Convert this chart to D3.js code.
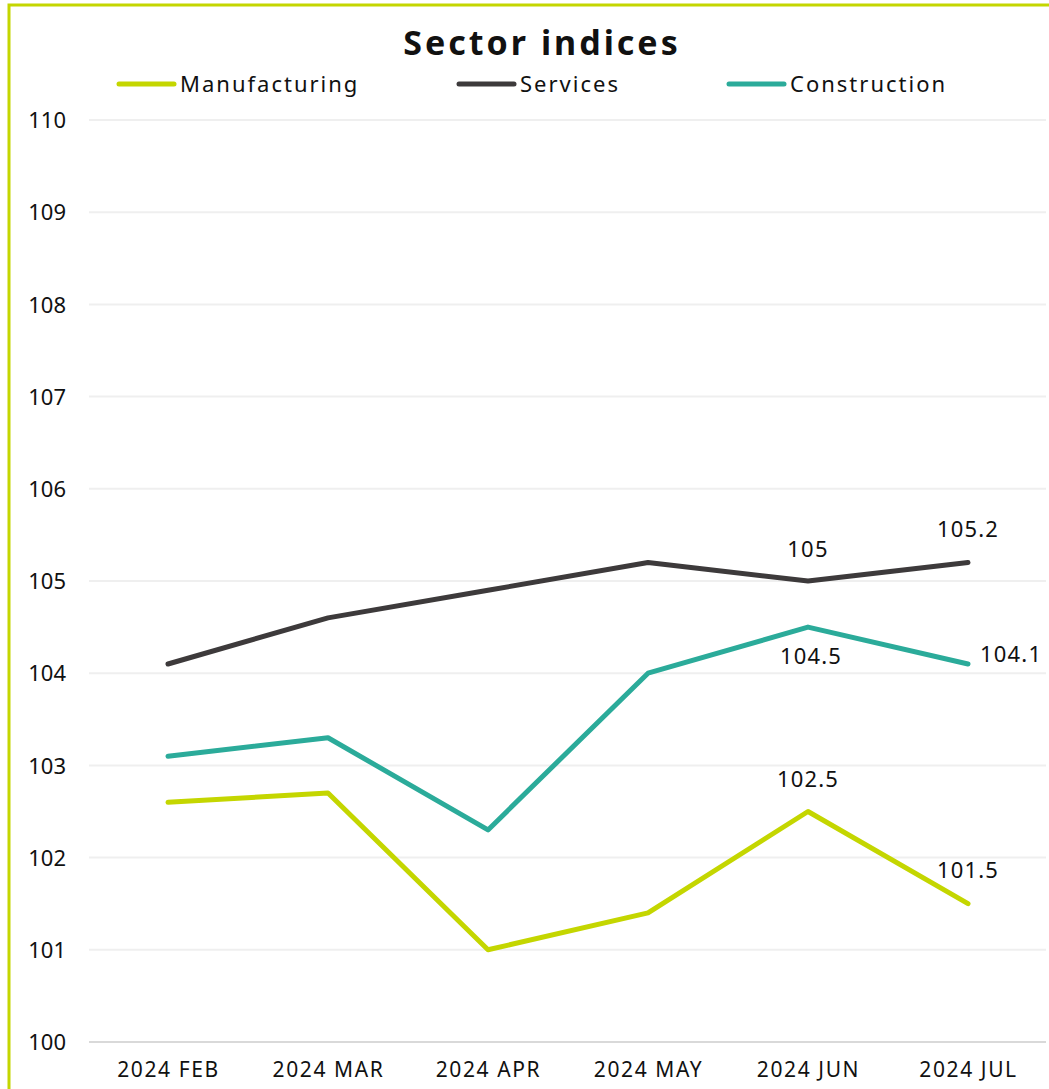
<!DOCTYPE html>
<html><head><meta charset="utf-8">
<script src="https://cdn.jsdelivr.net/npm/d3@7"></script>
<style>
body{margin:0;background:#fff;}
svg{display:block;font-family:"Noto Sans",Lato,sans-serif;}
</style></head>
<body>
<svg id="chart" width="1049" height="1089"></svg>
<script>
const categories = ["2024 FEB","2024 MAR","2024 APR","2024 MAY","2024 JUN","2024 JUL"];
const manufacturing = [102.6,102.7,101.0,101.4,102.5,101.5];
const services = [104.1,104.6,104.9,105.2,105.0,105.2];
const construction = [103.1,103.3,102.3,104.0,104.5,104.1];
const yTicks = [100,101,102,103,104,105,106,107,108,109,110];
const seriesNames = ["Manufacturing","Services","Construction"];
const colors = ["#c4d600","#3d3a3b","#2bab9a"];
// labels: [seriesIdx, pointIdx, dx, dy, anchor]
const labels = [
  [0,4,0,-32,"middle"],[0,5,0,-33,"middle"],
  [1,4,0,-32,"middle"],[1,5,0,-33,"middle"],
  [2,4,3,29,"middle"],[2,5,12,-10,"start"]
];

const svg = d3.select("#chart");
// border
svg.append("path").attr("d",`M9,1089 V5 H1049`).attr("fill","none").attr("stroke","#c4d600").attr("stroke-width",3);

const x = d3.scalePoint().domain(categories).range([88,1048]).padding(0.5);
const y = d3.scaleLinear().domain([100,110]).range([1042,120]);

// grid
svg.append("g").selectAll("line").data(yTicks).join("line")
 .attr("x1",89).attr("x2",1046)
 .attr("y1",d=>y(d)).attr("y2",d=>y(d))
 .attr("stroke",d=>d===100?"#d9d9d9":"#efefef").attr("stroke-width",2);

// y axis labels
const yAxis = d3.axisLeft(y).tickValues(yTicks).tickSize(0).tickPadding(0).tickFormat(d3.format("d"));
const ya = svg.append("g").attr("transform","translate(66,0)").call(yAxis);
ya.select(".domain").remove();
ya.selectAll("text").attr("font-size",22).attr("fill","#111").attr("font-family","Noto Sans, Lato, sans-serif").attr("dy","0.35em");

// x axis labels
const xAxis = d3.axisBottom(x).tickSize(0).tickPadding(0);
const xa = svg.append("g").attr("transform","translate(0,1070)").call(xAxis);
xa.select(".domain").remove();
xa.selectAll("text").attr("font-size",21).attr("fill","#111").attr("font-family","Noto Sans, Lato, sans-serif")
  .attr("letter-spacing","1.6px").attr("dy","0.35em");

const data = [manufacturing, services, construction];
const line = d3.line().x((d,i)=>x(categories[i])).y(d=>y(d));
data.forEach((s,k)=>{
  svg.append("path").datum(s).attr("d",line).attr("fill","none")
   .attr("stroke",colors[k]).attr("stroke-width",5).attr("stroke-linejoin","round").attr("stroke-linecap","round");
});

labels.forEach(([k,i,dx,dy,anc])=>{
  svg.append("text").attr("x",x(categories[i])+dx).attr("y",y(data[k][i])+dy)
   .attr("text-anchor",anc).attr("font-size",22).attr("fill","#111").attr("letter-spacing","1.2px")
   .attr("dy","0.35em").text(String(data[k][i]));
});

// title
svg.append("text").attr("x",542).attr("y",43).attr("text-anchor","middle")
 .attr("dy","0.35em").attr("font-size",34).attr("font-weight","bold").attr("fill","#111")
 .attr("letter-spacing","3px").text("Sector indices");

// legend
const legX = [119,459,729];
seriesNames.forEach((n,k)=>{
  svg.append("line").attr("x1",legX[k]).attr("x2",legX[k]+55).attr("y1",84).attr("y2",84)
   .attr("stroke",colors[k]).attr("stroke-width",5).attr("stroke-linecap","round");
  svg.append("text").attr("x",legX[k]+61).attr("y",84).attr("dy","0.35em")
   .attr("font-size",22).attr("fill","#111").attr("letter-spacing","2px").text(n);
});
</script>
</body></html>
